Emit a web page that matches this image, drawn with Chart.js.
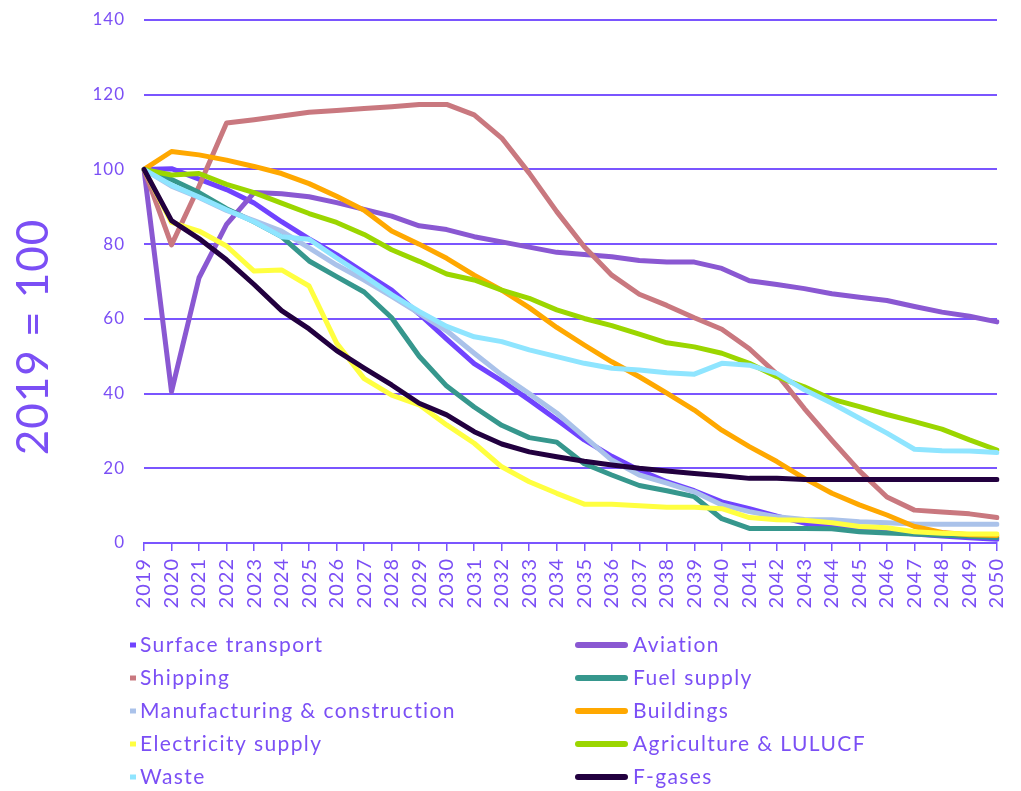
<!DOCTYPE html>
<html>
<head>
<meta charset="utf-8">
<script src="https://cdn.jsdelivr.net/npm/chart.js@4.4.1/dist/chart.umd.min.js"></script>
<style>
  html, body { margin: 0; padding: 0; background: #fff; }
  #wrap { width: 1021px; height: 791px; position: relative; }
</style>
</head>
<body>
<div id="wrap"><canvas id="chart" width="1021" height="791"></canvas></div>
<script>
const years = ["2019", "2020", "2021", "2022", "2023", "2024", "2025", "2026", "2027", "2028", "2029",
  "2030", "2031", "2032", "2033", "2034", "2035", "2036", "2037", "2038", "2039", "2040",
  "2041", "2042", "2043", "2044", "2045", "2046", "2047", "2048", "2049", "2050"];

const surfaceTransport = [100, 100.2, 97.4, 94.6, 91, 86, 81.4, 77.2, 72.4, 67.7, 61.3, 54.6, 48, 43.4, 38.3, 33, 27.6, 23.2, 19.5, 16.4, 14, 11, 9.2, 7.2, 5.3, 4.6, 3.5, 3, 2.4, 1.9, 1.4, 1];
const aviation = [100, 40.5, 71, 85.3, 93.8, 93.5, 92.7, 91.1, 89.3, 87.5, 84.9, 83.9, 82, 80.6, 79.2, 77.8, 77.2, 76.6, 75.6, 75.2, 75.2, 73.5, 70.2, 69.2, 68.1, 66.7, 65.8, 64.9, 63.3, 61.8, 60.7, 59.2];
const shipping = [100, 79.8, 95.5, 112.4, 113.3, 114.3, 115.3, 115.8, 116.3, 116.8, 117.4, 117.4, 114.6, 108.4, 99, 88.7, 79.3, 71.7, 66.6, 63.6, 60.3, 57.2, 52, 45.2, 36, 27.5, 19.3, 12.3, 8.8, 8.3, 7.8, 6.8];
const fuelSupply = [100, 97.3, 93.8, 89.5, 86, 82, 75.5, 71.3, 67.2, 60.3, 50, 42, 36.4, 31.5, 28.2, 27, 21.2, 18.2, 15.4, 14, 12.4, 6.5, 3.9, 3.9, 3.9, 3.8, 3, 2.7, 2.4, 2.1, 1.8, 1.5];
const manufacturing = [100, 95.5, 92.5, 89, 86.3, 83.5, 79, 74.4, 70.4, 66, 61.5, 56.8, 50.8, 45, 40, 34.8, 28.5, 22.2, 18.2, 16, 13.7, 10.2, 8.4, 7, 6.3, 6.2, 5.7, 5.4, 5.1, 5, 5, 5];
const buildings = [100, 104.8, 103.9, 102.5, 100.8, 98.9, 96.2, 92.8, 89.1, 83.5, 80, 76.2, 71.7, 67.7, 63, 57.7, 53, 48.5, 44.5, 40.1, 35.6, 30.2, 25.8, 21.8, 17.3, 13.3, 10.2, 7.5, 4.4, 2.8, 2.2, 2];
const electricity = [100, 85.8, 83.5, 79.5, 72.8, 73.1, 68.8, 53.5, 44, 39.6, 37, 31.6, 26.7, 20.4, 16.4, 13.3, 10.4, 10.4, 10, 9.6, 9.6, 9.2, 6.8, 6.2, 6.1, 5.4, 4.4, 4.1, 3, 2.6, 2.4, 2.4];
const agriculture = [100, 98.5, 98.9, 96, 93.8, 91, 88.2, 85.8, 82.6, 78.5, 75.4, 72, 70.4, 67.7, 65.5, 62.4, 60.1, 58.2, 55.9, 53.6, 52.5, 50.8, 48.1, 44.5, 41.8, 38.5, 36.5, 34.4, 32.5, 30.5, 27.6, 24.9];
const waste = [100, 95.8, 92.6, 89.2, 86, 82, 81.3, 76.3, 71.5, 66.5, 62, 58, 55.2, 53.9, 51.7, 49.9, 48.1, 46.8, 46.3, 45.6, 45.2, 48.1, 47.6, 45.4, 41, 37.4, 33.4, 29.4, 25.1, 24.7, 24.6, 24.2];
const fGases = [100, 86.3, 81.5, 75.8, 69.2, 62.2, 57.3, 51.5, 46.8, 42.3, 37.4, 34.3, 29.8, 26.5, 24.4, 23.1, 21.9, 20.9, 20, 19.3, 18.6, 18, 17.3, 17.3, 17, 17, 17, 17, 17, 17, 17, 17];

const seriesNames = ["Surface transport", "Aviation", "Shipping", "Fuel supply", "Manufacturing & construction",
  "Buildings", "Electricity supply", "Agriculture & LULUCF", "Waste", "F-gases"];
const seriesData = [surfaceTransport, aviation, shipping, fuelSupply, manufacturing,
  buildings, electricity, agriculture, waste, fGases];
const seriesColors = ["#7043ff", "#8a58d2", "#c9787f", "#36978d", "#aac2ea",
  "#ffa800", "#ffff40", "#9bd600", "#8fe5ff", "#22003f"];

const purple = "#7b4ff5";
const gridPurple = "#7a55ff";
const fontFamily = "Lato, 'Open Sans', sans-serif";

const datasets = seriesNames.map((name, i) => ({
  label: name,
  data: seriesData[i],
  borderColor: seriesColors[i],
  backgroundColor: seriesColors[i],
  borderWidth: 5,
  pointRadius: 0,
  tension: 0,
  fill: false,
  borderJoinStyle: "round",
  borderCapStyle: "round",
  order: -i, // later series on top, like the original
}));

// wider letter spacing, the original font is a wide geometric one
const spacing = {
  id: "spacing",
  beforeDraw(chart) {
    chart.ctx.letterSpacing = "1px";
  },
};

// legend (two columns) and rotated y title
const extras = {
  id: "extras",
  afterDraw(chart) {
    const ctx = chart.ctx;
    ctx.save();
    ctx.letterSpacing = "1.4px";
    ctx.font = "21px " + fontFamily;
    ctx.textBaseline = "middle";
    ctx.fillStyle = purple;
    const rowY = [645, 678, 711, 744, 777];
    chart.data.datasets.forEach((ds, i) => {
      const col = i % 2;
      const y = rowY[Math.floor(i / 2)];
      ctx.strokeStyle = ds.borderColor;
      if (col === 0) {
        ctx.lineWidth = 5;
        ctx.lineCap = "butt";
        ctx.beginPath();
        ctx.moveTo(130, y);
        ctx.lineTo(136, y);
        ctx.stroke();
        ctx.fillText(ds.label, 140, y);
      } else {
        ctx.lineWidth = 6;
        ctx.lineCap = "round";
        ctx.beginPath();
        ctx.moveTo(578, y);
        ctx.lineTo(625, y);
        ctx.stroke();
        ctx.fillText(ds.label, 633, y);
      }
    });
    ctx.translate(34, 337);
    ctx.rotate(-Math.PI / 2);
    ctx.textAlign = "center";
    ctx.letterSpacing = "1px";
    ctx.font = "44px " + fontFamily;
    ctx.fillText("2019 = 100", 0, 0);
    ctx.restore();
  },
};

new Chart(document.getElementById("chart"), {
  type: "line",
  data: { labels: years, datasets: datasets },
  options: {
    responsive: false,
    animation: false,
    devicePixelRatio: 1,
    layout: { padding: { top: 20, right: 24, left: 0, bottom: 0 } },
    plugins: {
      legend: { display: false },
      tooltip: { enabled: false },
    },
    scales: {
      x: {
        offset: false,
        afterFit: (scale) => {
          scale.height = 248;
          scale.paddingLeft = 0;
          scale.paddingRight = 0;
        },
        grid: { drawOnChartArea: false, drawTicks: true, tickLength: 8, color: gridPurple, lineWidth: 1.5 },
        border: { display: true, color: gridPurple, width: 2 },
        ticks: {
          autoSkip: false, minRotation: 90, maxRotation: 90, padding: 7,
          color: purple, font: { family: fontFamily, size: 20 },
        },
      },
      y: {
        min: 0,
        max: 140,
        afterFit: (scale) => {
          scale.width = 144;
          scale.paddingTop = 0;
          scale.paddingBottom = 0;
        },
        grid: { drawTicks: false, color: gridPurple, lineWidth: 2 },
        border: { display: false },
        ticks: {
          stepSize: 20, padding: 19,
          color: purple, font: { family: fontFamily, size: 17 },
        },
      },
    },
  },
  plugins: [spacing, extras],
});
</script>
</body>
</html>
